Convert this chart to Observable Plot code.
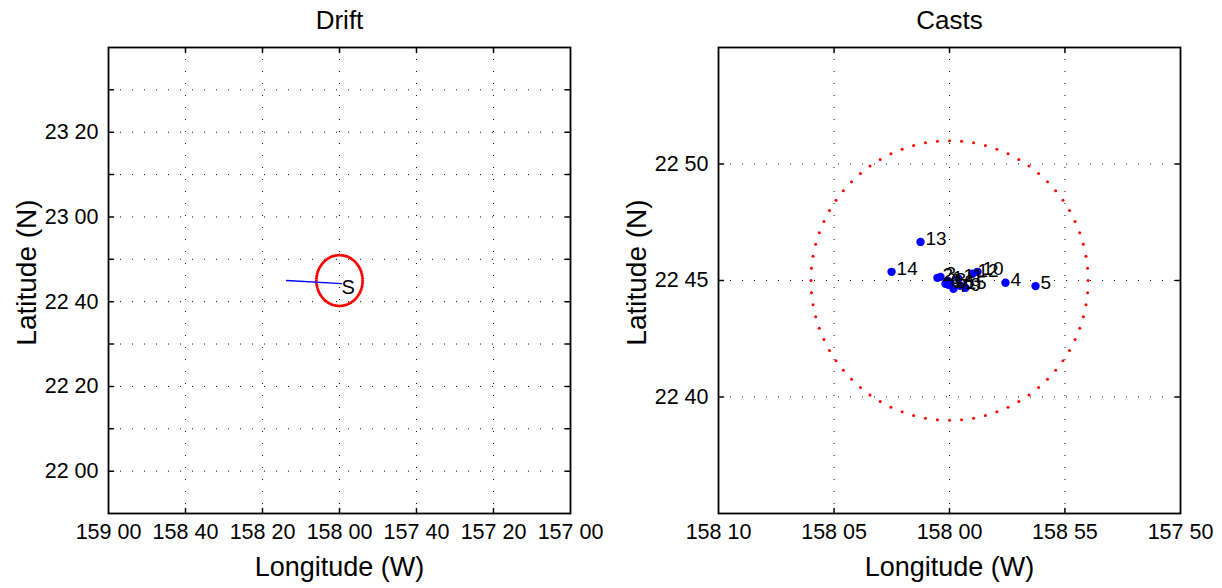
<!DOCTYPE html>
<html><head><meta charset="utf-8">
<script src="https://cdn.jsdelivr.net/npm/d3@7"></script>
<script src="https://cdn.jsdelivr.net/npm/@observablehq/plot@0.6"></script>
<style>
body{margin:0;background:#fff;}
#wrap{display:flex;width:1222px;height:588px;}
#wrap svg{display:block;}
</style></head><body><div id="wrap"></div>
<script>
// ---- tick values and labels ----
const driftLonTicks = [-159, -158.6667, -158.3333, -158, -157.6667, -157.3333, -157];
const driftLonLabels = ["159 00","158 40","158 20","158 00","157 40","157 20","157 00"];
const driftLatTicks = [22.0, 22.1667, 22.3333, 22.5, 22.6667, 22.8333, 23.0, 23.1667, 23.3333, 23.5];
const driftLatLabels = ["22 00","","22 20","","22 40","","23 00","","23 20",""];
const castLonTicks = [-158.1667, -158.0833, -158, -157.9167, -157.8333];
const castLonLabels = ["158 10","158 05","158 00","158 55","157 50"];
const castLatTicks = [22.6667, 22.75, 22.8333];
const castLatLabels = ["22 40","22 45","22 50"];

// ---- drift track ----
const driftLon = [-158.229, -157.991];
const driftLat = [22.750, 22.738];
const startLabel = "S";

// ---- casts ----
const castIds = ["1","2","3","4","5","6","7","8","9","10","11","12","13","14","15","16"];
const castLon = [-158.0014,-158.0087,-158.0065,-157.9596,-157.9379,-158.0029,-157.9971,-157.9993,-157.9885,-157.9798,-157.9935,-157.9834,-158.0209,-158.0418,-157.9921,-158.0007];
const castLat = [22.7498,22.7519,22.7526,22.7484,22.7460,22.7477,22.7441,22.7484,22.7448,22.7562,22.7512,22.7548,22.7776,22.7562,22.7462,22.7469];

// ---- station ring (6' radius around station) ----
const ringCenterLon = -158.0;
const ringCenterLat = 22.75;
const ringRadiusDeg = 0.1;
const ringStepDeg = 5;

const ring = d3.range(0, 360, ringStepDeg).map(a => ({
  lon: ringCenterLon + ringRadiusDeg * Math.cos(a * Math.PI / 180),
  lat: ringCenterLat + ringRadiusDeg * Math.sin(a * Math.PI / 180)
}));
const drift = driftLon.map((lon, i) => ({lon, lat: driftLat[i]}));
const casts = castIds.map((id, i) => ({id, lon: castLon[i], lat: castLat[i]}));

const FONT = "'Liberation Sans', Arial, Helvetica, sans-serif";
const tickShape = {draw(ctx, l) { ctx.moveTo(0, 0); ctx.lineTo(0, -l); }};
const gridStyle = {stroke: "#111", strokeWidth: 1, strokeDasharray: "1,11"};

function gridMarks(xTicks, yTicks) {
  return [
    Plot.ruleX(xTicks.slice(1, -1), {x: d => d, ...gridStyle}),
    Plot.ruleY(yTicks, {y: d => d, ...gridStyle})
  ];
}

function frameMarks(title, xTicks, xLabels, yTicks, yLabels) {
  const inner = xTicks.slice(1, -1);
  return [
    Plot.frame({stroke: "black", strokeWidth: 1.8}),
    Plot.vector(inner, {x: d => d, frameAnchor: "bottom", length: 5, rotate: 0, anchor: "start", shape: tickShape, stroke: "black"}),
    Plot.vector(inner, {x: d => d, frameAnchor: "top", length: 5, rotate: 180, anchor: "start", shape: tickShape, stroke: "black"}),
    Plot.vector(yTicks, {y: d => d, frameAnchor: "left", length: 5, rotate: 90, anchor: "start", shape: tickShape, stroke: "black"}),
    Plot.vector(yTicks, {y: d => d, frameAnchor: "right", length: 5, rotate: -90, anchor: "start", shape: tickShape, stroke: "black"}),
    Plot.text(xTicks, {x: d => d, text: (d, i) => xLabels[i], frameAnchor: "bottom", textAnchor: "middle", lineAnchor: "middle", dy: 19, fontSize: 21.5, fill: "black"}),
    Plot.text(yTicks, {y: d => d, text: (d, i) => yLabels[i], frameAnchor: "left", textAnchor: "end", lineAnchor: "middle", dx: -10, fontSize: 21.5, fill: "black"}),
    Plot.text(["Longitude (W)"], {frameAnchor: "bottom", textAnchor: "middle", lineAnchor: "middle", dy: 54, fontSize: 27, fill: "black"}),
    Plot.text(["Latitude (N)"], {frameAnchor: "left", textAnchor: "middle", lineAnchor: "middle", dx: -81, dy: -8, rotate: -90, fontSize: 28, fill: "black"}),
    Plot.text([title], {frameAnchor: "top", textAnchor: "middle", lineAnchor: "middle", dy: -27, fontSize: 26, fill: "black"})
  ];
}

const left = Plot.plot({
  width: 611, height: 588,
  marginLeft: 108, marginRight: 41, marginTop: 47, marginBottom: 75,
  style: {fontFamily: FONT, background: "white", overflow: "visible"},
  x: {domain: [-159, -157], axis: null},
  y: {domain: [21.8333, 23.6667], axis: null},
  marks: [
    ...gridMarks(driftLonTicks, driftLatTicks),
    Plot.dot(ring, {x: "lon", y: "lat", r: 1.5, fill: "#ff0000"}),
    Plot.line(drift, {x: "lon", y: "lat", stroke: "#0000ff", strokeWidth: 1.3}),
    Plot.text(drift.slice(-1), {x: "lon", y: "lat", text: () => startLabel, textAnchor: "start", lineAnchor: "middle", dx: 0, dy: 4, fontSize: 20, fill: "black"}),
    ...frameMarks("Drift", driftLonTicks, driftLonLabels, driftLatTicks, driftLatLabels)
  ]
});

const right = Plot.plot({
  width: 611, height: 588,
  marginLeft: 107, marginRight: 42, marginTop: 47, marginBottom: 75,
  style: {fontFamily: FONT, background: "white", overflow: "visible"},
  x: {domain: [-158.1667, -157.8333], axis: null},
  y: {domain: [22.5833, 22.9167], axis: null},
  marks: [
    ...gridMarks(castLonTicks, castLatTicks),
    Plot.dot(ring, {x: "lon", y: "lat", r: 1.5, fill: "#ff0000"}),
    Plot.dot(casts, {x: "lon", y: "lat", r: 4.2, fill: "#0000ff"}),
    Plot.text(casts, {x: "lon", y: "lat", text: "id", textAnchor: "start", lineAnchor: "middle", dx: 5, dy: -3, fontSize: 19, fill: "black"}),
    ...frameMarks("Casts", castLonTicks, castLonLabels, castLatTicks, castLatLabels)
  ]
});

document.getElementById("wrap").append(left, right);
</script></body></html>
